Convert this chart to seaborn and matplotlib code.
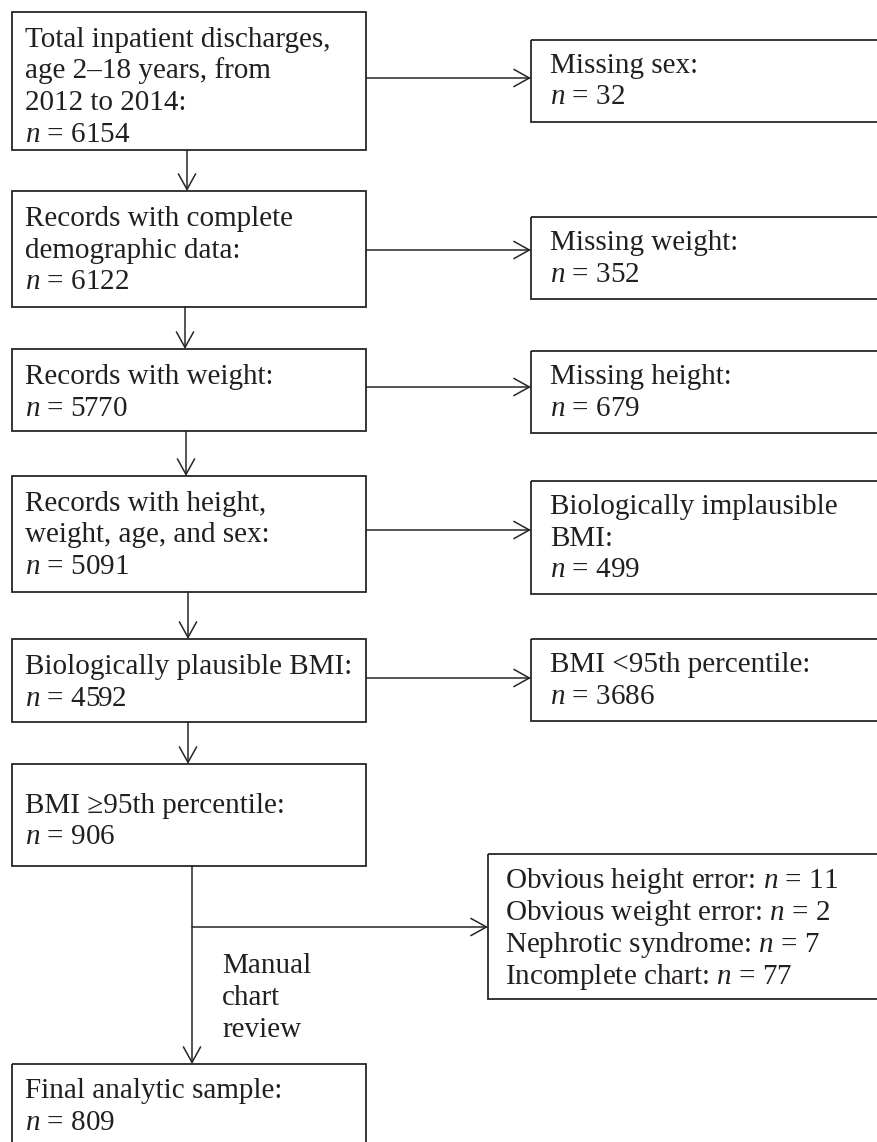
import matplotlib.pyplot as plt
from matplotlib.patches import Rectangle
import seaborn as sns

sns.set_theme(style="white")
plt.rcParams['font.family'] = ['Liberation Serif', 'DejaVu Serif']
plt.rcParams['mathtext.fontset'] = 'custom'
plt.rcParams['mathtext.it'] = 'Liberation Serif:italic'
plt.rcParams['mathtext.rm'] = 'Liberation Serif'

# flowchart content
main_labels = ["Total inpatient discharges,\nage 2\u201318 years, from\n2012 to 2014:",
               "Records with complete\ndemographic data:",
               "Records with weight:",
               "Records with height,\nweight, age, and sex:",
               "Biologically plausible BMI:",
               "BMI \u226595th percentile:",
               "Final analytic sample:"]
main_n = [6154, 6122, 5770, 5091, 4592, 906, 809]

excl_labels = ["Missing sex:", "Missing weight:", "Missing height:",
               "Biologically implausible\nBMI:", "BMI <95th percentile:"]
excl_n = [32, 352, 679, 499, 3686]

review_reasons = ["Obvious height error", "Obvious weight error",
                  "Nephrotic syndrome", "Incomplete chart"]
review_n = [11, 2, 7, 77]
review_note = "Manual\nchart\nreview"

# layout (pixels, y down)
main_x = (12, 366)
main_top = [12, 191, 349, 476, 639, 764, 1064]
main_bottom = [150, 307, 431, 592, 722, 866, 1150]
main_pad = [35, 35, 35, 35, 35, 49, 34]
down_x = [187, 185, 186, 188, 188, 192]

excl_x = (531, 880)
excl_top = [40, 217, 351, 481, 639]
excl_bottom = [122, 299, 433, 594, 721]
excl_arrow_y = [78, 250, 387, 530, 678]

rev_box = (488, 880, 854, 999)
rev_arrow_y = 927

LINE = 31.5
FS = 21
INK = '#231f20'
EDGE = '#262626'


def draw_box(ax, x0, x1, top, bottom):
    ax.add_patch(Rectangle((x0, top), x1 - x0, bottom - top, fill=False,
                           edgecolor=EDGE, linewidth=1.3))


def draw_lines(ax, x, y0, lines, step=LINE):
    for i, s in enumerate(lines):
        ax.text(x, y0 + i * step, s, fontsize=FS, color=INK,
                ha='left', va='baseline')


def arrow(ax, start, end):
    ax.annotate('', xy=end, xytext=start,
                arrowprops=dict(arrowstyle='->,head_length=0.56,head_width=0.31',
                                mutation_scale=20, color=EDGE, lw=1.1,
                                shrinkA=0, shrinkB=0))


fig = plt.figure(figsize=(8.78, 11.42), dpi=100)
ax = fig.add_axes([0, 0, 1, 1])
ax.set_xlim(0, 878)
ax.set_ylim(1142, 0)
ax.axis('off')

# main column
for i, (lab, n) in enumerate(zip(main_labels, main_n)):
    draw_box(ax, main_x[0], main_x[1], main_top[i], main_bottom[i])
    lines = lab.split('\n') + [f"$n$ = {n}"]
    draw_lines(ax, main_x[0] + 13, main_top[i] + main_pad[i], lines)

for i in range(len(main_n) - 1):
    arrow(ax, (down_x[i], main_bottom[i]), (down_x[i], main_top[i + 1]))

# exclusion boxes
for i, (lab, n) in enumerate(zip(excl_labels, excl_n)):
    draw_box(ax, excl_x[0], excl_x[1], excl_top[i], excl_bottom[i])
    lines = lab.split('\n') + [f"$n$ = {n}"]
    draw_lines(ax, excl_x[0] + 19, excl_top[i] + 33, lines)
    arrow(ax, (main_x[1], excl_arrow_y[i]), (excl_x[0], excl_arrow_y[i]))

# manual chart review
draw_box(ax, *rev_box)
rev_lines = [f"{r}: $n$ = {n}" for r, n in zip(review_reasons, review_n)]
draw_lines(ax, rev_box[0] + 17, rev_box[2] + 34, rev_lines, step=32)
arrow(ax, (down_x[-1], rev_arrow_y), (rev_box[0], rev_arrow_y))
draw_lines(ax, 222, 973, review_note.split('\n'), step=32)

fig.savefig('out.png', dpi=100)
